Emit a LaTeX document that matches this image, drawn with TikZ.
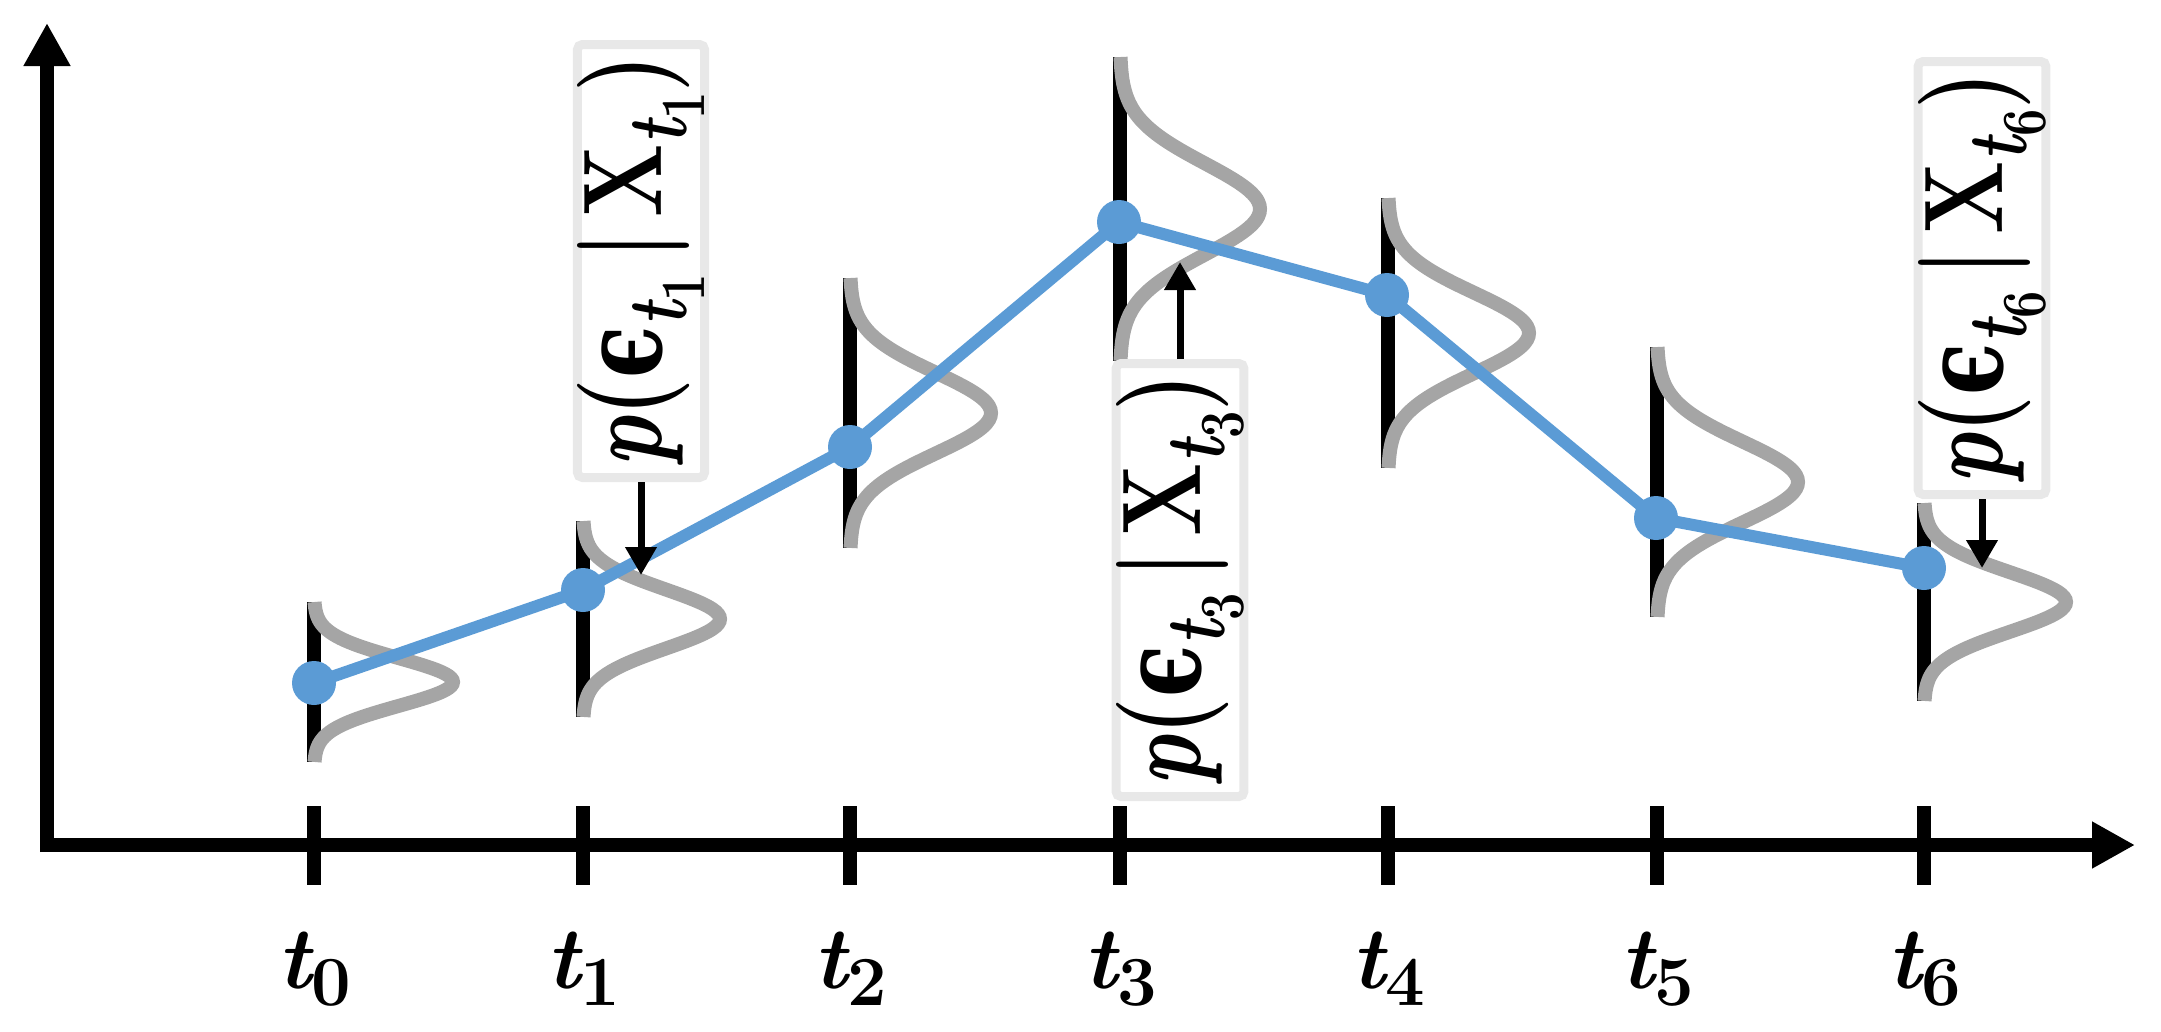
\documentclass[tikz,border=0pt]{standalone}
\usepackage{fontspec}
\newfontfamily\grkfont{DejaVu Serif}
\usetikzlibrary{arrows.meta}
\definecolor{ptblue}{HTML}{5B9BD5}
\definecolor{ptgray}{HTML}{A5A5A5}
\definecolor{boxgray}{HTML}{E8E8E8}
\newcommand\bit{\bfseries\itshape}
\newcommand\bup{\bfseries\upshape}
\newcommand\lowsub[1]{\raisebox{-0.22em}{\scalebox{0.75}{#1}}}
\newcommand\ticksub[1]{\raisebox{-0.2em}{\scalebox{0.8}{#1}}}
\newcommand\gaussmark[4]{%
  \draw[barline] (#1,#2-#3) -- (#1,#2+#3);
  \draw[gaussline] plot[domain=-1:1,samples=81,smooth] ({#1+#4*exp(-pow(\x,2)/0.18)},{#2+#3*\x});}
\newcommand\plab[1]{\rotatebox{90}{\scalebox{0.77}[1]{{\bit p}{\bup(}{\grkfont\bfseries ϵ}\lowsub{{\bit t}\lowsub{\bup #1}}{\bup\,|\,}{\bup X}\lowsub{{\bit t}\lowsub{\bup #1}}{\bup)}}}}
\newcommand\tlab[1]{{\bit t}\ticksub{\bup #1}}
\begin{document}
\begin{tikzpicture}[x=1pt,y=-1pt]
\tikzset{
  axisline/.style={line width=14pt,black},
  ticklbl/.style={anchor=base,inner sep=0pt,font=\fontsize{88}{100}\selectfont},
  barline/.style={line width=14pt,black},
  gaussline/.style={line width=14pt,ptgray},
  blueline/.style={line width=12pt,ptblue,line join=round},
  dot/.style={circle,fill=ptblue,minimum size=44pt,inner sep=0pt},
  pbox/.style={draw=boxgray,line width=9pt,fill=white,rounded corners=5pt,minimum width=127pt,minimum height=433pt,inner sep=0pt,font=\fontsize{112}{130}\selectfont},
  parrow/.style={line width=7pt,-{Triangle[length=28pt,width=30pt]}}
}
\useasboundingbox (0,0) rectangle (2161,1031);
% axes
\coordinate (ytip) at (47,23);
\coordinate (xtip) at (2135,845);
\coordinate (ybase) at (47,852);
\coordinate (xbase) at (40,845);
\draw[axisline,-{Triangle[length=43pt,width=44pt]}] (ybase) -- (ytip);
\draw[axisline,-{Triangle[length=43pt,width=44pt]}] (xbase) -- (xtip);
% ticks
\draw[axisline] (314,806) -- (314,885);
\draw[axisline] (583,806) -- (583,885);
\draw[axisline] (850,806) -- (850,885);
\draw[axisline] (1120,806) -- (1120,885);
\draw[axisline] (1388,806) -- (1388,885);
\draw[axisline] (1657,806) -- (1657,885);
\draw[axisline] (1924,806) -- (1924,885);
% tick labels
\node[ticklbl] (lbl0) at (314,988) {\tlab{0}};
\node[ticklbl] (lbl1) at (583,988) {\tlab{1}};
\node[ticklbl] (lbl2) at (850,988) {\tlab{2}};
\node[ticklbl] (lbl3) at (1120,988) {\tlab{3}};
\node[ticklbl] (lbl4) at (1388,988) {\tlab{4}};
\node[ticklbl] (lbl5) at (1657,988) {\tlab{5}};
\node[ticklbl] (lbl6) at (1924,988) {\tlab{6}};
% bars with gaussians
\gaussmark{314}{682}{80}{139}
\gaussmark{583}{619}{98}{137}
\gaussmark{850}{413}{135}{141}
\gaussmark{1120}{209}{152}{140}
\gaussmark{1388}{333}{135}{141}
\gaussmark{1657}{482}{135}{141}
\gaussmark{1924}{602}{99}{142}
% points
\coordinate (c0) at (314,683);
\coordinate (c1) at (583,590);
\coordinate (c2) at (850,447);
\coordinate (c3) at (1119,222);
\coordinate (c4) at (1387,295);
\coordinate (c5) at (1656,518);
\coordinate (c6) at (1924,568);
\draw[blueline] (c0) -- (c1) -- (c2) -- (c3) -- (c4) -- (c5) -- (c6);
\node[dot] (p0) at (c0) {};
\node[dot] (p1) at (c1) {};
\node[dot] (p2) at (c2) {};
\node[dot] (p3) at (c3) {};
\node[dot] (p4) at (c4) {};
\node[dot] (p5) at (c5) {};
\node[dot] (p6) at (c6) {};
% boxes
\node[pbox] (b1) at (641,261) {\plab{1}};
\node[pbox] (b3) at (1180,580) {\plab{3}};
\node[pbox] (b6) at (1982,278) {\plab{6}};
\coordinate (a1) at (641,575);
\coordinate (a3) at (1180,262);
\coordinate (a6) at (1982,568);
\draw[parrow] (b1.south) -- (a1);
\draw[parrow] (b3.north) -- (a3);
\draw[parrow] (b6.south) -- (a6);
\end{tikzpicture}
\end{document}
